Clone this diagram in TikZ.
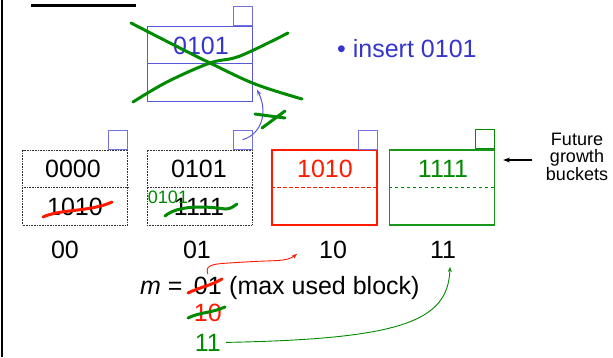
\documentclass[tikz,border=0pt]{standalone}
\usepackage{fontspec}
\setmainfont{Liberation Sans}
\usetikzlibrary{arrows.meta,positioning,calc}
\definecolor{lhBlue}{HTML}{3535CC}
\definecolor{lhBox}{HTML}{5858DA}
\definecolor{lhRed}{HTML}{FF1A00}
\definecolor{lhGreen}{HTML}{008A00}

\begin{document}
\begin{tikzpicture}[x=1pt, y=-1pt, font=\fontsize{25}{29}\selectfont,
  bucket/.style={minimum width=105pt, minimum height=75pt, inner sep=0pt},
  ptr/.style={draw=lhBox!85, line width=0.8pt, minimum size=19pt, inner sep=0pt, anchor=south east},
  strike/.style={line width=3pt, line cap=round},
  dotbox/.style={draw=black!80, line width=0.8pt, dash pattern=on 0.8pt off 0.8pt},
  split/.style={line width=1pt, dash pattern=on 3.5pt off 2.5pt}]
\useasboundingbox (0,0) rectangle (613,357);
% left margin rule + (cut off) title underline
\draw[line width=2.5pt] (2,0) -- (2,357);
\draw[line width=3pt] (31,5) -- (136,5);
% ---------- old block, crossed out ----------
\node[bucket, draw=lhBox, line width=0.9pt] (old) at (200,63.5) {};
\draw[lhBox, line width=0.9pt] (old.west) -- (old.east);
\node[ptr] (pold) at (old.north east) {};
\node[text=lhBlue] (oldkey) at (201,46) {0101};
\node[anchor=base west, inner sep=0pt, text=lhBlue] (ins) at (337,57) {• insert 0101};
% ---------- buckets 00 .. 11 ----------
\node[bucket, dotbox] (b00) at (75,187.5) {};
\draw[dotbox] (b00.west) -- (b00.east);
\node[ptr] (p00) at (b00.north east) {};
\node (k00a) at (73,169) {0000};
\node (k00b) at (75,207) {1010};
\node[bucket, dotbox] (b01) at (199.5,187.5) {};
\draw[dotbox] (b01.west) -- (b01.east);
\node[ptr] (p01) at (b01.north east) {};
\node (k01a) at (199,169) {0101};
\node (k01b) at (199,207) {1111};
\node[text=lhGreen, font=\fontsize{18}{20}\selectfont, inner sep=0pt] (k01n) at (168,197) {0101};
\node[bucket, draw=lhRed, line width=1.2pt] (b10) at (324.5,187.5) {};
\draw[split, draw=lhRed] (b10.west) -- (b10.east);
\node[ptr] (p10) at (b10.north east) {};
\node[text=lhRed] (k10a) at (325,169) {1010};
\node[bucket, draw=lhGreen!90, line width=1.2pt] (b11) at (442,187.5) {};
\draw[split, draw=lhGreen] (b11.west) -- (b11.east);
\node[ptr, draw=lhGreen, line width=1pt] (p11) at (b11.north east) {};
\node[text=lhGreen] (k11a) at (443,169) {1111};
% future growth
\node[align=center, font=\fontsize{18}{16.5}\selectfont] (fut) at (577,157) {Future\\growth\\buckets};
\draw[-{Stealth[length=7pt,width=5pt]}, line width=1.3pt] ($(fut.west)+(-10,3)$) -- ($(b11.east)+(8,-27.5)$);
% ---------- bucket numbers ----------
\node (l00) at (65,250) {00};
\node (l01) at (197,250) {01};
\node (l10) at (333,250) {10};
\node (l11) at (443,250) {11};
% ---------- m ----------
\node[anchor=base west, inner sep=0pt] (meq) at (140,294) {\textit{m} =};
\node[base right=11pt of meq, inner sep=0pt] (m01) {01};
\node[base right=7pt of m01, inner sep=0pt] (mtxt) {(max used block)};
\node[text=lhRed, inner sep=0pt] (m10) at ($(m01.center)+(0,27)$) {10};
\node[text=lhGreen, inner sep=0pt] (m11) at ($(m01.center)+(0,57)$) {11};
\coordinate (r10) at (297,254);
\coordinate (g11) at (450,267);
\draw[lhRed, line width=0.9pt, -{Stealth[length=5pt,width=4pt]}] ([yshift=2pt]m01.north) .. controls (204,263) and (215,264) .. (245,262) .. controls (275,260) and (286,262) .. (r10);
\draw[lhGreen, line width=0.9pt, -{Stealth[length=5pt,width=4pt]}] ([xshift=5pt]m11.east) .. controls (400,339) and (448,322) .. (g11);
% ---------- strikes ----------
\draw[lhBox, line width=1pt, -{Stealth[length=6pt,width=4pt]}] (p01.center) .. controls (262,134) and (268,112) .. ($(old.south east)+(4,-12)$);
\draw[strike, lhGreen] plot[smooth, tension=0.6] coordinates {(131,23) (172,44) (210,63) (255,84) (302,99)};
\draw[strike, lhGreen] plot[smooth, tension=0.6] coordinates {(133,102) (167,82) (210,63) (240,56) (288,33)};
\draw[strike, lhGreen] (255,114) -- (285,118);
\draw[strike, lhGreen] (262,128) -- (285,111);
\draw[strike, lhRed] (43,217) .. controls (60,209) and (90,212) .. (112,202);
\draw[strike, lhGreen] (165,216) .. controls (178,205) and (205,206) .. (225,209) .. controls (230,209) and (233,207) .. (237,204);
\draw[strike, lhRed] (188,293) .. controls (200,287) and (210,286) .. (222,279);
\draw[strike, lhGreen] (188,318) .. controls (200,312) and (212,313) .. (225,307);
\end{tikzpicture}
\end{document}
